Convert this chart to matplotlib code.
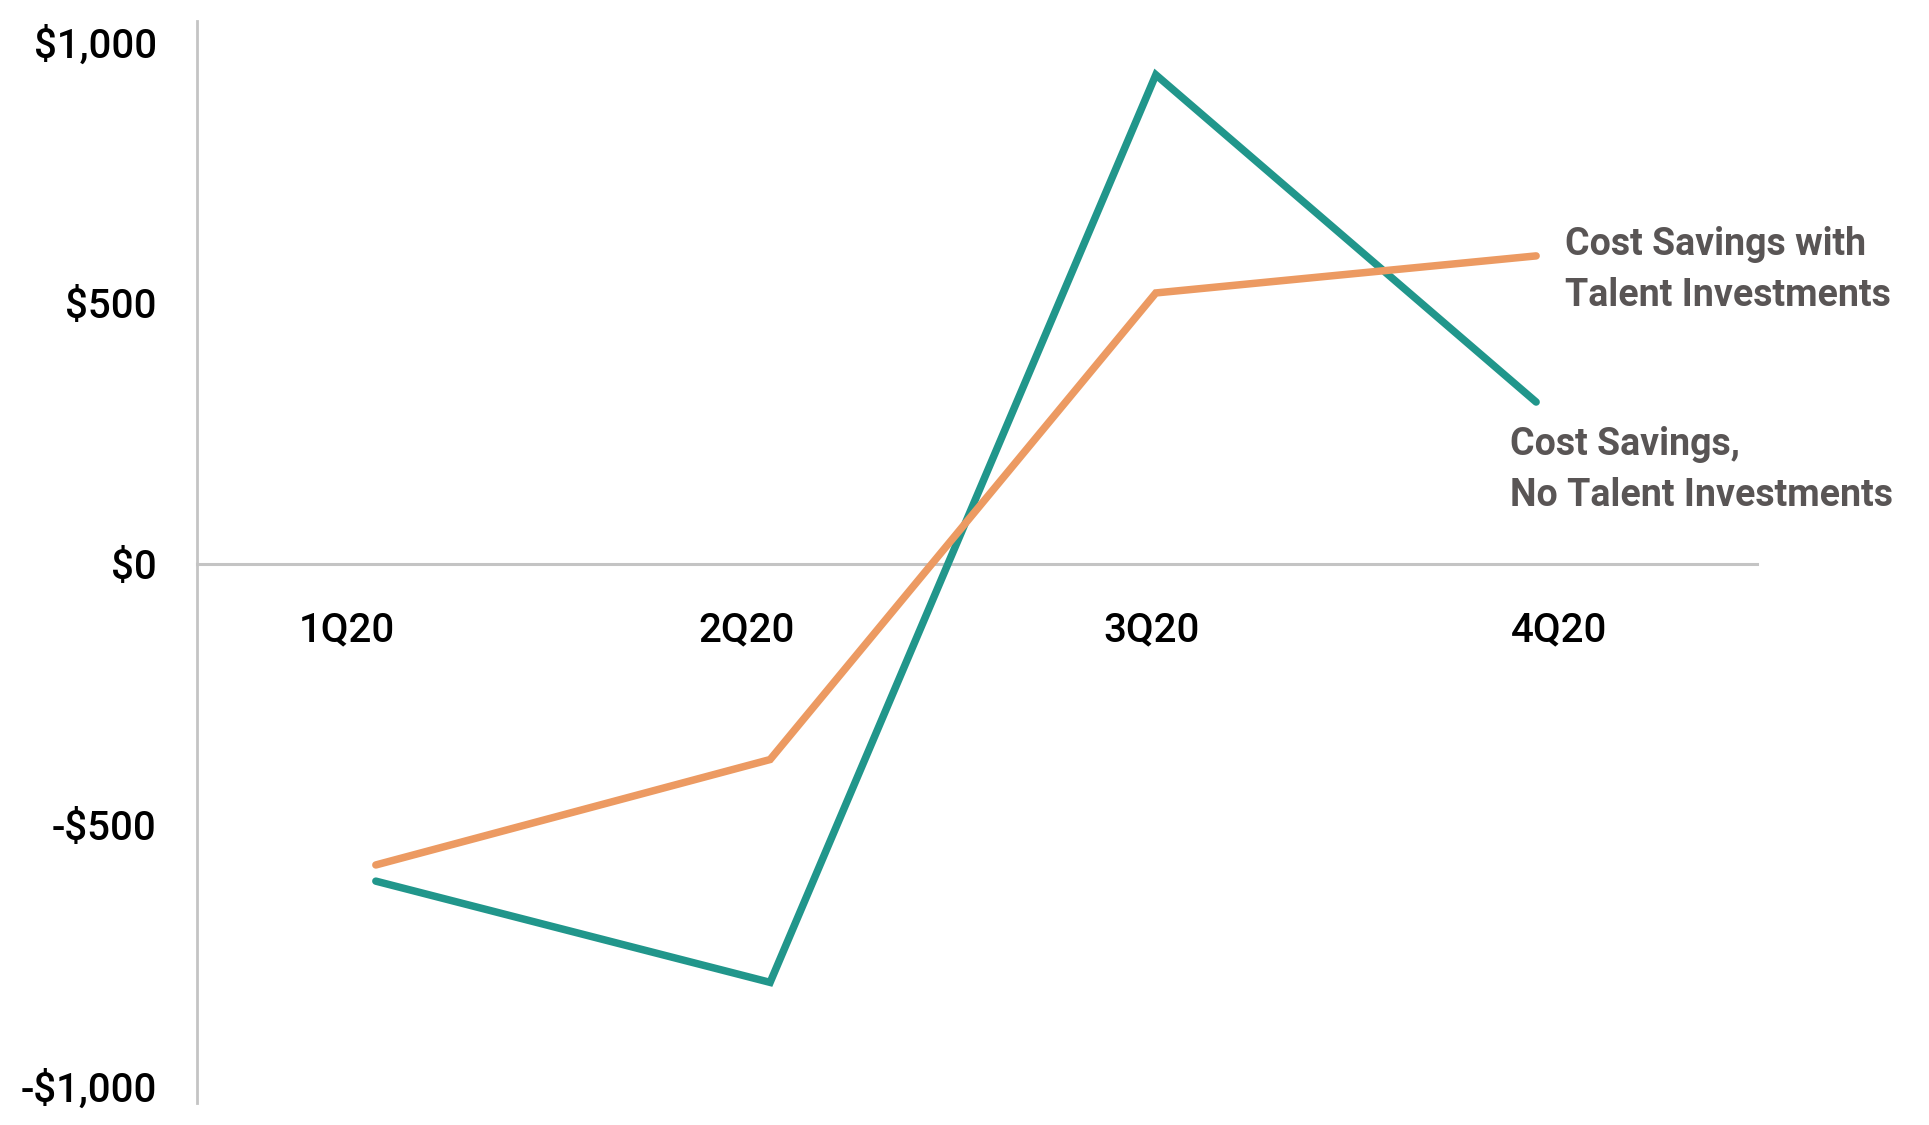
import matplotlib
matplotlib.use("Agg")
import matplotlib.pyplot as plt

quarters = ["1Q20", "2Q20", "3Q20", "4Q20"]
no_talent = [-608, -802, 937, 310]
with_talent = [-577, -375, 519, 590]
ytick_values = [-1000, -500, 0, 500, 1000]
ytick_labels = ["-$1,000", "-$500", "$0", "$500", "$1,000"]
label_with = "Cost Savings with\nTalent Investments"
label_no = "Cost Savings,\nNo Talent Investments"

plt.rcParams['font.family'] = ['Roboto', 'DejaVu Sans']

fig = plt.figure(figsize=(19.29, 11.25), dpi=100)
ax = fig.add_axes([0.1021, 0.0196, 0.8087, 0.9617])

x = [0, 1.016, 2.01, 2.99]
ax.plot(x, no_talent, color="#21968B", lw=5.4, solid_capstyle="round", solid_joinstyle="miter", zorder=3)
ax.plot(x, with_talent, color="#EC9A62", lw=5.4, solid_capstyle="round", solid_joinstyle="miter", zorder=3)

ax.set_xlim(-0.461, 3.559)
ax.set_ylim(-1033, 1040)

for s in ["top", "right"]:
    ax.spines[s].set_visible(False)
ax.spines["left"].set_color("#c4c4c4")
ax.spines["left"].set_linewidth(2.0)
ax.spines["bottom"].set_position(("data", 0))
ax.spines["bottom"].set_color("#c4c4c4")
ax.spines["bottom"].set_linewidth(2.2)

ax.set_yticks(ytick_values)
ax.set_yticklabels(ytick_labels, fontsize=29, fontweight="medium")
ax.set_xticks([-0.075, 0.956, 2.0, 3.049])
ax.set_xticklabels(quarters, fontsize=29, fontweight="medium")
ax.tick_params(axis="y", length=0, pad=29)
ax.tick_params(axis="x", length=0, pad=34)

ax.text(3.064, 563, label_with, fontsize=27, fontweight="bold", color="#595555",
        ha="left", va="center", linespacing=1.5)
ax.text(2.923, 180, label_no, fontsize=27, fontweight="bold", color="#595555",
        ha="left", va="center", linespacing=1.5)

fig.savefig("out.png", dpi=100)
